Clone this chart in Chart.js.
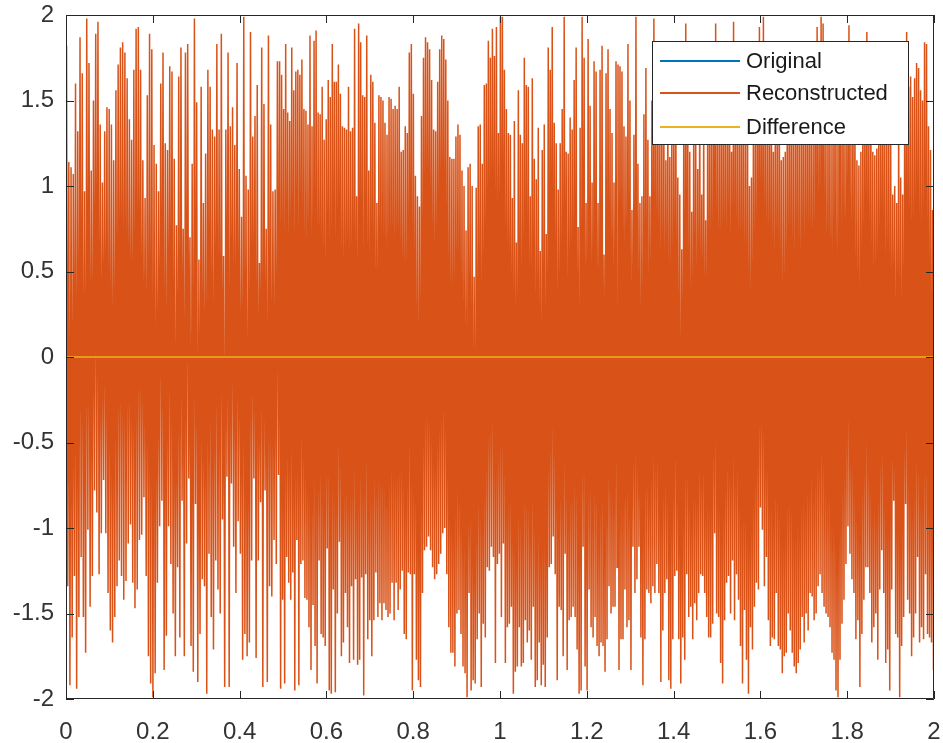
<!DOCTYPE html>
<html>
<head>
<meta charset="utf-8">
<script src="https://cdn.jsdelivr.net/npm/chart.js@4.4.1/dist/chart.umd.min.js"></script>
<style>
  html, body { margin: 0; padding: 0; background: #fff; }
</style>
</head>
<body>
<canvas id="myChart" width="943" height="743"></canvas>
<script>
// time edges (s) of the four stretches the peaks were read from
const chunkEdges = [0, 0.491, 0.986, 1.482, 2.0]

// upper peaks of the signal, read left to right, one array per stretch
const upperA = [1.82,1.14,1.11,1.07,1.60,1.32,1.87,1.66,0.97,1.98,1.72,1.09,1.50,1.89,1.96,1.36,1.02,1.32,1.46,1.45,1.36,1.15,1.56,1.71,1.81,1.84,1.78,1.63,1.39,1.27,1.68,1.92,1.93,1.68,1.15,0.93,1.53,1.89,1.80,1.24,1.13,0.97,1.60,1.78,1.25,1.21,1.70,1.67,1.16,0.77,1.64,1.81,0.75,1.78,1.83,0.70,1.13,1.98,1.49,0.57,1.58,0.90,1.19,1.68,1.58,1.33,1.29,1.83,1.33,1.89,0.59,1.33,1.78,1.35,1.46,1.24,1.72,1.10,0.82,1.99,1.06,0.98,1.90,1.29,1.41,1.59,0.55,1.81,1.48,0.75,1.88,1.36,0.97,0.98,1.73]
const upperB = [1.73,1.65,1.45,1.83,1.43,1.38,1.81,1.56,1.67,1.68,1.65,1.74,1.45,1.44,1.36,1.88,1.35,1.85,1.91,1.43,1.42,1.58,1.27,1.39,1.62,1.52,1.83,1.61,1.61,1.71,1.54,1.35,1.34,1.33,1.58,1.32,1.34,1.92,0.94,1.95,1.84,1.53,1.52,1.88,1.09,1.65,1.61,1.37,0.90,1.53,1.52,1.50,1.37,1.30,1.52,1.51,1.45,1.47,1.45,1.58,1.20,1.21,1.35,1.31,1.78,1.83,1.54,1.06,0.94,0.88,1.41,1.75,1.87,1.84,1.80,1.62,1.33,1.32,1.61,1.80,1.88,1.86,1.74,1.50,1.17,1.16,1.16,1.29,1.36,1.30,1.09,1.00,0.74,1.11,1.13,1.00,0.47,0.99,1.35,1.36,1.13,1.59,1.60,1.85,1.75,1.92]
const upperC = [1.76,1.93,1.31,1.99,1.99,1.68,1.45,1.31,1.30,0.93,1.38,0.67,1.56,1.30,1.25,1.75,1.59,1.58,0.94,1.63,1.16,1.04,1.34,0.62,1.21,1.36,0.72,1.81,1.68,1.93,1.37,1.25,0.98,1.25,1.45,1.99,1.20,1.19,1.40,1.33,1.62,1.81,0.76,1.34,1.99,1.75,0.90,1.86,1.47,1.02,1.73,1.67,0.90,1.68,1.82,0.60,1.66,1.80,1.45,1.31,1.02,1.73,1.71,1.70,1.67,1.35,1.29,1.83,1.50,0.86,1.30,1.99,1.13,0.90,0.94,1.42,1.69,1.27,0.94,1.50,1.98,1.45,1.60,1.35,1.52,1.40,1.15,1.55,1.17,1.48,1.30,1.62,1.05,0.95,0.63,1.40,1.95,1.45,1.20,0.85,1.50,1.30,1.10,1.55,0.95,1.40,0.80,1.45]
const upperD = [1.55,1.40,1.70,1.95,1.30,1.60,1.45,1.75,1.35,1.50,1.65,1.20,1.96,1.40,1.55,1.30,1.70,1.45,1.25,1.60,1.00,1.05,1.50,1.35,1.65,1.93,1.40,1.99,1.30,1.55,1.45,1.70,1.20,1.50,1.35,1.60,1.15,1.17,1.20,1.55,1.40,1.65,1.30,1.50,1.75,1.25,1.45,1.60,1.35,1.70,1.40,1.55,1.30,1.80,1.93,1.45,1.99,1.95,1.50,1.35,1.60,1.25,1.45,1.70,1.30,1.55,1.40,1.65,1.35,1.50,1.94,1.30,1.60,1.45,1.15,1.12,1.20,1.55,1.40,1.90,1.35,1.60,1.20,1.18,1.22,1.50,1.35,1.65,1.40,1.30,1.55,1.25,0.95,1.00,0.90,1.45,1.05,0.95,1.40,1.90,1.58,1.64,1.52,1.63,1.72,1.69,1.56,1.50,1.84,1.83,1.35,1.21,0.86]

// lower peaks of the signal, same stretches
const lowerA = [-1.34,-1.92,-1.64,-1.28,-1.94,-1.52,-1.17,-1.52,-1.73,-1.01,-1.46,-1.28,-0.78,-0.91,-1.27,-1.03,-0.72,-1.03,-1.38,-1.60,-1.67,-1.52,-1.34,-1.19,-1.28,-1.42,-1.31,-1.09,-0.98,-1.32,-1.47,-1.36,-1.07,-1.04,-0.82,-1.28,-1.75,-1.91,-1.99,-1.85,-1.32,-0.99,-0.84,-1.83,-1.63,-0.99,-1.21,-1.50,-1.75,-1.23,-1.64,-0.84,-1.75,-1.09,-0.71,-1.69,-1.84,-0.86,-1.90,-1.62,-1.30,-1.34,-1.97,-1.15,-1.52,-1.71,-1.19,-1.36,-1.50,-0.95,-1.93,-0.70,-1.93,-0.74,-1.11,-1.38,-0.96,-1.15,-1.77,-1.62,-1.75,-1.67,-1.19,-0.71,-1.76,-1.19,-0.85,-1.93,-0.78,-1.90,-1.34,-1.40,-1.07,-1.21,-0.69]
const lowerB = [-1.94,-1.42,-1.91,-1.17,-1.32,-1.42,-1.26,-1.95,-1.07,-1.92,-1.21,-1.19,-1.41,-1.42,-1.58,-1.83,-1.45,-1.69,-1.91,-1.19,-1.62,-1.64,-1.69,-1.12,-1.95,-1.97,-1.36,-1.96,-1.50,-1.08,-1.75,-1.67,-1.38,-1.58,-1.79,-1.34,-1.77,-1.30,-1.80,-1.77,-1.29,-1.98,-1.27,-1.65,-1.54,-1.75,-1.54,-1.26,-1.52,-1.44,-1.54,-1.44,-1.48,-1.52,-1.50,-1.32,-1.54,-1.32,-1.48,-1.36,-1.25,-1.62,-1.65,-1.26,-1.27,-1.95,-1.27,-1.77,-1.89,-1.93,-1.38,-1.13,-1.11,-1.05,-1.13,-1.23,-1.30,-1.27,-1.21,-1.15,-1.03,-1.00,-1.27,-1.58,-1.73,-1.73,-1.81,-1.50,-1.48,-1.62,-1.81,-1.85,-1.99,-1.38,-1.95,-1.89,-1.91,-1.65,-1.50,-1.93,-1.56,-1.64,-1.23,-1.25,-1.11,-1.17]
const lowerC = [-1.79,-1.21,-1.15,-1.52,-1.09,-1.79,-1.58,-1.56,-1.46,-1.97,-1.84,-1.81,-1.58,-1.81,-1.79,-1.54,-1.67,-1.60,-1.77,-1.46,-1.93,-1.89,-1.67,-1.92,-1.80,-1.93,-1.64,-1.23,-1.21,-1.05,-1.27,-1.89,-1.46,-1.48,-1.75,-1.15,-1.83,-1.54,-1.52,-1.46,-1.52,-1.71,-1.97,-1.95,-1.11,-1.81,-1.95,-1.36,-1.58,-1.64,-1.52,-1.69,-1.75,-1.67,-1.69,-1.84,-1.65,-1.34,-1.50,-1.46,-1.46,-1.23,-1.83,-1.65,-1.65,-1.36,-1.58,-1.54,-1.83,-1.11,-1.38,-1.30,-1.11,-1.64,-1.92,-1.65,-1.36,-1.38,-1.44,-1.34,-1.38,-1.21,-1.38,-1.90,-1.60,-1.38,-1.30,-1.89,-1.94,-1.65,-1.28,-1.25,-1.65,-1.91,-1.64,-1.77,-1.27,-1.52,-1.46,-1.65,-1.44,-1.54,-1.38,-1.27,-1.28,-1.38,-1.52,-1.64]
const lowerD = [-1.64,-1.56,-1.03,-1.50,-1.52,-1.79,-1.91,-1.54,-1.32,-1.28,-1.50,-1.19,-1.54,-1.27,-1.42,-1.69,-1.91,-1.48,-1.77,-1.97,-1.58,-1.71,-1.46,-1.32,-1.36,-0.88,-1.01,-1.34,-1.17,-1.54,-1.69,-1.64,-1.65,-1.38,-1.69,-1.71,-1.85,-1.75,-1.73,-1.50,-1.60,-1.73,-1.81,-1.85,-1.79,-1.71,-1.52,-1.67,-1.50,-1.60,-1.38,-1.40,-1.54,-1.50,-1.34,-1.27,-1.38,-1.46,-1.50,-1.52,-1.58,-1.73,-1.77,-1.95,-1.99,-1.77,-1.56,-1.42,-1.21,-0.99,-1.15,-1.30,-1.38,-1.65,-1.54,-1.93,-1.62,-1.42,-1.23,-1.23,-1.38,-1.67,-1.58,-1.50,-1.77,-1.36,-1.13,-1.38,-1.79,-1.71,-1.95,-1.36,-0.84,-1.62,-1.64,-1.99,-1.69,-1.52,-0.86,-1.42,-1.50,-1.75,-1.64,-1.50,-1.17,-1.67,-1.58,-1.65,-1.27,-1.62,-1.64,-1.67,-1.83]

const upperTips = [upperA, upperB, upperC, upperD]
const lowerTips = [lowerA, lowerB, lowerC, lowerD]

// difference between original and reconstructed: flat zero
const diffTimes = [0, 2]
const diffValues = [0, 0]

const labels = ['Original', 'Reconstructed', 'Difference']
const lineColors = ['#0072BD', '#D95319', '#EDB120']

const xTicks = [0, 0.2, 0.4, 0.6, 0.8, 1, 1.2, 1.4, 1.6, 1.8, 2]
const yTicks = [-2, -1.5, -1, -0.5, 0, 0.5, 1, 1.5, 2]

// each stretch: upper peak, lower peak, upper peak ... spread evenly over its time span
function buildSignal() {
    let pts = []
    for (let c = 0; c < upperTips.length; c++) {
        const t0 = chunkEdges[c], t1 = chunkEdges[c + 1]
        const up = upperTips[c], lo = lowerTips[c]
        const n = Math.max(up.length, lo.length)
        for (let k = 0; k < n; k++) {
            if (k < up.length) pts.push({ x: t0 + (k + 0.25) * (t1 - t0) / up.length, y: up[k] })
            if (k < lo.length) pts.push({ x: t0 + (k + 0.75) * (t1 - t0) / lo.length, y: lo[k] })
        }
    }
    return pts
}

const signal = buildSignal()
const diffPts = diffTimes.map((t, i) => ({ x: t, y: diffValues[i] }))

const axisColor = '#262626'
const fontFamily = "'Liberation Sans', Arial, Helvetica, sans-serif"

// box around the axes with inward ticks on all four sides, like MATLAB
const axesBox = {
    id: 'axesBox',
    afterDatasetsDraw(chart) {
        const { ctx, chartArea: a, scales } = chart
        const tl = 8
        ctx.save()
        ctx.strokeStyle = axisColor
        ctx.lineWidth = 1
        ctx.beginPath()
        ctx.rect(Math.round(a.left) + 0.5, Math.round(a.top) + 0.5, Math.round(a.right - a.left) - 1, Math.round(a.bottom - a.top) - 1)
        xTicks.forEach(v => {
            const px = Math.round(scales.x.getPixelForValue(v)) + 0.5
            ctx.moveTo(px, a.bottom); ctx.lineTo(px, a.bottom - tl)
            ctx.moveTo(px, a.top); ctx.lineTo(px, a.top + tl)
        })
        yTicks.forEach(v => {
            const py = Math.round(scales.y.getPixelForValue(v)) + 0.5
            ctx.moveTo(a.left, py); ctx.lineTo(a.left + tl, py)
            ctx.moveTo(a.right, py); ctx.lineTo(a.right - tl, py)
        })
        ctx.stroke()
        ctx.restore()
    }
}

// legend box in the upper right corner of the axes
const boxLegend = {
    id: 'boxLegend',
    afterDraw(chart) {
        const { ctx, chartArea: a } = chart
        const w = 256, h = 103
        const left = a.right - 26 - w, top = a.top + 26
        ctx.save()
        ctx.fillStyle = '#fff'
        ctx.fillRect(left, top, w, h)
        ctx.strokeStyle = axisColor
        ctx.lineWidth = 1
        ctx.strokeRect(Math.round(left) + 0.5, Math.round(top) + 0.5, w, h)
        const rows = [20, 52, 86]
        ctx.font = '22px ' + fontFamily
        ctx.textBaseline = 'middle'
        ctx.textAlign = 'left'
        chart.data.datasets.forEach((ds, i) => {
            const y = top + rows[i]
            ctx.strokeStyle = ds.borderColor
            ctx.lineWidth = 2
            ctx.beginPath()
            ctx.moveTo(left + 8, y); ctx.lineTo(left + 88, y)
            ctx.stroke()
            ctx.fillStyle = '#1a1a1a'
            ctx.fillText(ds.label, left + 94, y + 1)
        })
        ctx.restore()
    }
}

function fmt(v) {
    return String(+Number(v).toFixed(2))
}

function createChart() {
    const ctx = document.getElementById('myChart').getContext('2d')
    return new Chart(ctx, {
        type: 'line',
        data: {
            datasets: [
                // original lies exactly under the reconstruction, so it is not visible
                { label: labels[0], data: signal, borderColor: lineColors[0], borderWidth: 1.5, pointRadius: 0, order: 2, hidden: true },
                { label: labels[1], data: signal, borderColor: lineColors[1], borderWidth: 1.5, pointRadius: 0, order: 1 },
                { label: labels[2], data: diffPts, borderColor: lineColors[2], borderWidth: 1.5, pointRadius: 0, order: 0 }
            ]
        },
        options: {
            responsive: false,
            devicePixelRatio: 1,
            animation: false,
            events: [],
            layout: { padding: { top: 15, right: 9, left: 0, bottom: 0 } },
            plugins: { legend: { display: false }, tooltip: { enabled: false } },
            elements: { line: { tension: 0 } },
            scales: {
                x: {
                    type: 'linear', min: 0, max: 2,
                    afterBuildTicks: s => { s.ticks = xTicks.map(v => ({ value: v })) },
                    afterFit: s => { s.height = 44; s.paddingLeft = 0; s.paddingRight = 0 },
                    grid: { display: false, drawTicks: false },
                    border: { display: false },
                    ticks: { color: '#333', font: { family: fontFamily, size: 24 }, padding: 19, maxRotation: 0, autoSkip: false, callback: fmt }
                },
                y: {
                    type: 'linear', min: -2, max: 2,
                    afterBuildTicks: s => { s.ticks = yTicks.map(v => ({ value: v })) },
                    afterFit: s => { s.width = 66; s.paddingTop = 0; s.paddingBottom = 0 },
                    grid: { display: false, drawTicks: false },
                    border: { display: false },
                    ticks: { color: '#333', font: { family: fontFamily, size: 24 }, padding: 12, autoSkip: false, callback: fmt }
                }
            }
        },
        plugins: [axesBox, boxLegend]
    })
}

createChart()
</script>
</body>
</html>
